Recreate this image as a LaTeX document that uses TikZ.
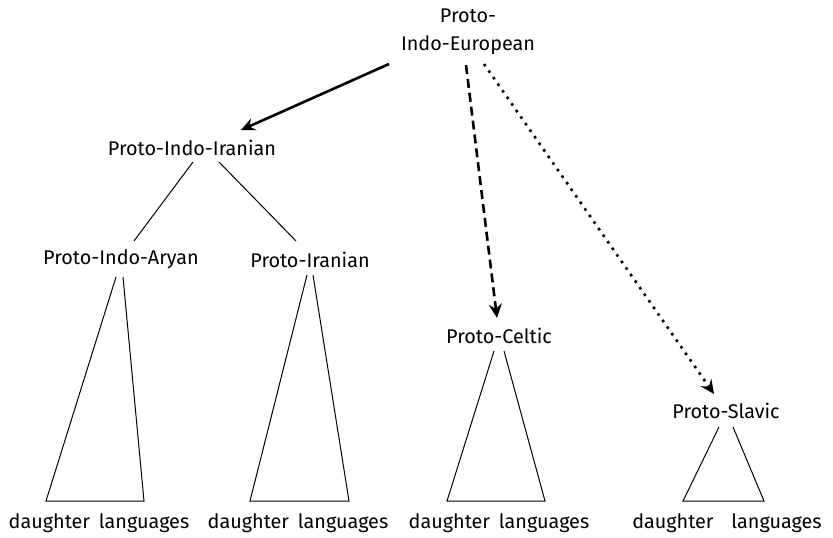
\documentclass[tikz,border=0pt]{standalone}
\usepackage{fontspec}
\setmainfont{Fira Sans}
\usetikzlibrary{arrows.meta}
\begin{document}
\begin{tikzpicture}[x=1pt,y=-1pt,
  lbl/.style={inner sep=0pt,font=\fontsize{19.8}{28}\selectfont,align=center},
  thin/.style={line width=1pt},
  bigarrow/.style={line width=2.6pt,-{Stealth[length=14pt,width=13pt,inset=5pt]}},
  dashedarrow/.style={bigarrow,dash pattern=on 9pt off 5pt},
  dottedarrow/.style={bigarrow,dash pattern=on 2.6pt off 5.4pt}]
\useasboundingbox (0,0) rectangle (833,538);
% labels
\node[lbl] (pie) at (468,32) {Proto-\\Indo-European};
\node[lbl] (pii) at (192,148) {Proto-Indo-Iranian};
\node[lbl] (pia) at (121,259) {Proto-Indo-Aryan};
\node[lbl] (pir) at (310,260) {Proto-Iranian};
\node[lbl] (pc) at (499,336) {Proto-Celtic};
\node[lbl] (ps) at (726,411) {Proto-Slavic};
\node[lbl] (d1) at (99,523) {daughter\hspace{0.45em}languages};
\node[lbl] (d2) at (298,523) {daughter\hspace{0.45em}languages};
\node[lbl] (d3) at (499,523) {daughter\hspace{0.45em}languages};
\node[lbl] (d4) at (727,523) {daughter\hspace{0.9em}languages};
% arrow end points
\coordinate (a1s) at (389,64);
\coordinate (a1e) at (241,130);
\coordinate (a2s) at (466,65);
\coordinate (a2e) at (497,318);
\coordinate (a3s) at (484,64);
\coordinate (a3e) at (714,394);
\draw[bigarrow] (a1s) -- (a1e);
\draw[dashedarrow] (a2s) -- (a2e);
\draw[dottedarrow] (a3s) -- (a3e);
% branches
\coordinate (b1s) at (193,162);
\coordinate (b1e) at (134,241);
\coordinate (b2s) at (219,162);
\coordinate (b2e) at (296,241);
\draw[thin] (b1s) -- (b1e);
\draw[thin] (b2s) -- (b2e);
% triangles
\draw[thin] (116,277) -- (46,501) -- (144,501) -- (123,277);
\draw[thin] (307,275) -- (250,501) -- (349,501) -- (313,275);
\draw[thin] (494,351) -- (447,501) -- (545,501) -- (504,351);
\draw[thin] (719,427) -- (683,501) -- (764,501) -- (733,427);
\end{tikzpicture}
\end{document}
